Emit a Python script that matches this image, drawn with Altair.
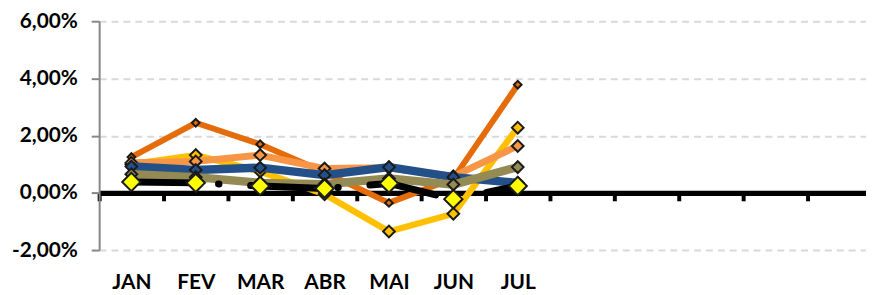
import altair as alt
import pandas as pd

# ---- data ----
all_months = ["JAN", "FEV", "MAR", "ABR", "MAI", "JUN", "JUL",
              "AGO", "SET", "OUT", "NOV", "DEZ"]
months = ["JAN", "FEV", "MAR", "ABR", "MAI", "JUN", "JUL"]

s_dark_orange = [1.25, 2.45, 1.70, 0.72, -0.35, 0.50, 3.78]
s_gold = [1.00, 1.32, 0.75, -0.05, -1.35, -0.73, 2.28]
s_light_orange = [1.05, 1.10, 1.32, 0.85, 0.88, 0.58, 1.64]
s_blue = [0.92, 0.80, 0.88, 0.62, 0.90, 0.55, 0.35]
s_olive = [0.65, 0.55, 0.35, 0.30, 0.50, 0.29, 0.90]
s_yellow = [0.38, 0.35, 0.24, 0.15, 0.33, -0.22, 0.24]

y_ticks = [-2, 0, 2, 4, 6]


def frame(vals):
    return pd.DataFrame({"mes": months, "ordem": list(range(len(months))), "valor": vals})


x_enc = alt.X(
    "mes:N",
    scale=alt.Scale(domain=all_months, range=[0, 780], paddingInner=0, paddingOuter=0),
    axis=alt.Axis(
        title=None,
        orient="bottom",
        offset=-57.75,
        tickBand="extent",
        domainColor="#000000",
        domainWidth=5.5,
        tickColor="#000000",
        tickWidth=4,
        tickSize=8,
        labelPadding=72,
        labelAngle=0,
        labelExpr="indexof(" + str(months) + ", datum.value) >= 0 ? datum.value : ''",
        grid=False,
    ),
)

y_enc = alt.Y(
    "valor:Q",
    scale=alt.Scale(domain=[-2, 6], nice=False, zero=False),
    axis=alt.Axis(
        title=None,
        values=y_ticks,
        labelExpr="replace(replace(format(datum.value, '.2f'), '.', ','), '\u2212', '-') + '%'",
        domainColor="#868686",
        domainWidth=2,
        tickColor="#868686",
        tickWidth=2,
        tickSize=8,
        labelPadding=14,
        grid=True,
        gridColor="#D9D9D9",
        gridDash=[7, 5],
        gridWidth=2,
    ),
)


def series_layers(vals, line_color, line_width, fill, size, dash=None):
    base = alt.Chart(frame(vals)).encode(x=x_enc, y=y_enc, order=alt.Order("ordem:Q"))
    line_kwargs = dict(color=line_color, strokeWidth=line_width, strokeJoin="round")
    if dash:
        line_kwargs.update(strokeDash=dash, strokeCap="round")
    line = base.mark_line(**line_kwargs)
    pts = base.mark_point(shape="diamond", filled=True, fill=fill, stroke="#1a1a1a",
                          strokeWidth=2, size=size, opacity=1)
    return [line, pts]


layers = []
layers += series_layers(s_dark_orange, "#E46C0A", 6, "#E46C0A", 60)
layers += series_layers(s_gold, "#FFC000", 6.5, "#FFC000", 140)
layers += series_layers(s_light_orange, "#F79646", 7, "#F79646", 140)
layers += series_layers(s_blue, "#24508A", 8.5, "#24508A", 140)
layers += series_layers(s_olive, "#948A54", 8.5, "#948A54", 140)
layers += series_layers(s_yellow, "#000000", 7, "#FFFF00", 340, dash=[68, 20, 0.5, 32])

chart = alt.layer(*layers).properties(
    width=774,
    height=231,
    padding={"left": 92, "top": 12, "right": 0, "bottom": 44},
    autosize=alt.AutoSizeParams(type="none"),
).configure_view(stroke="transparent").configure_axis(
    labelFont="Lato",
    labelFontWeight="bold",
    labelFontSize=21,
    labelColor="#000000",
)

chart.save("out.html", embed_options={"renderer": "svg", "actions": False})
